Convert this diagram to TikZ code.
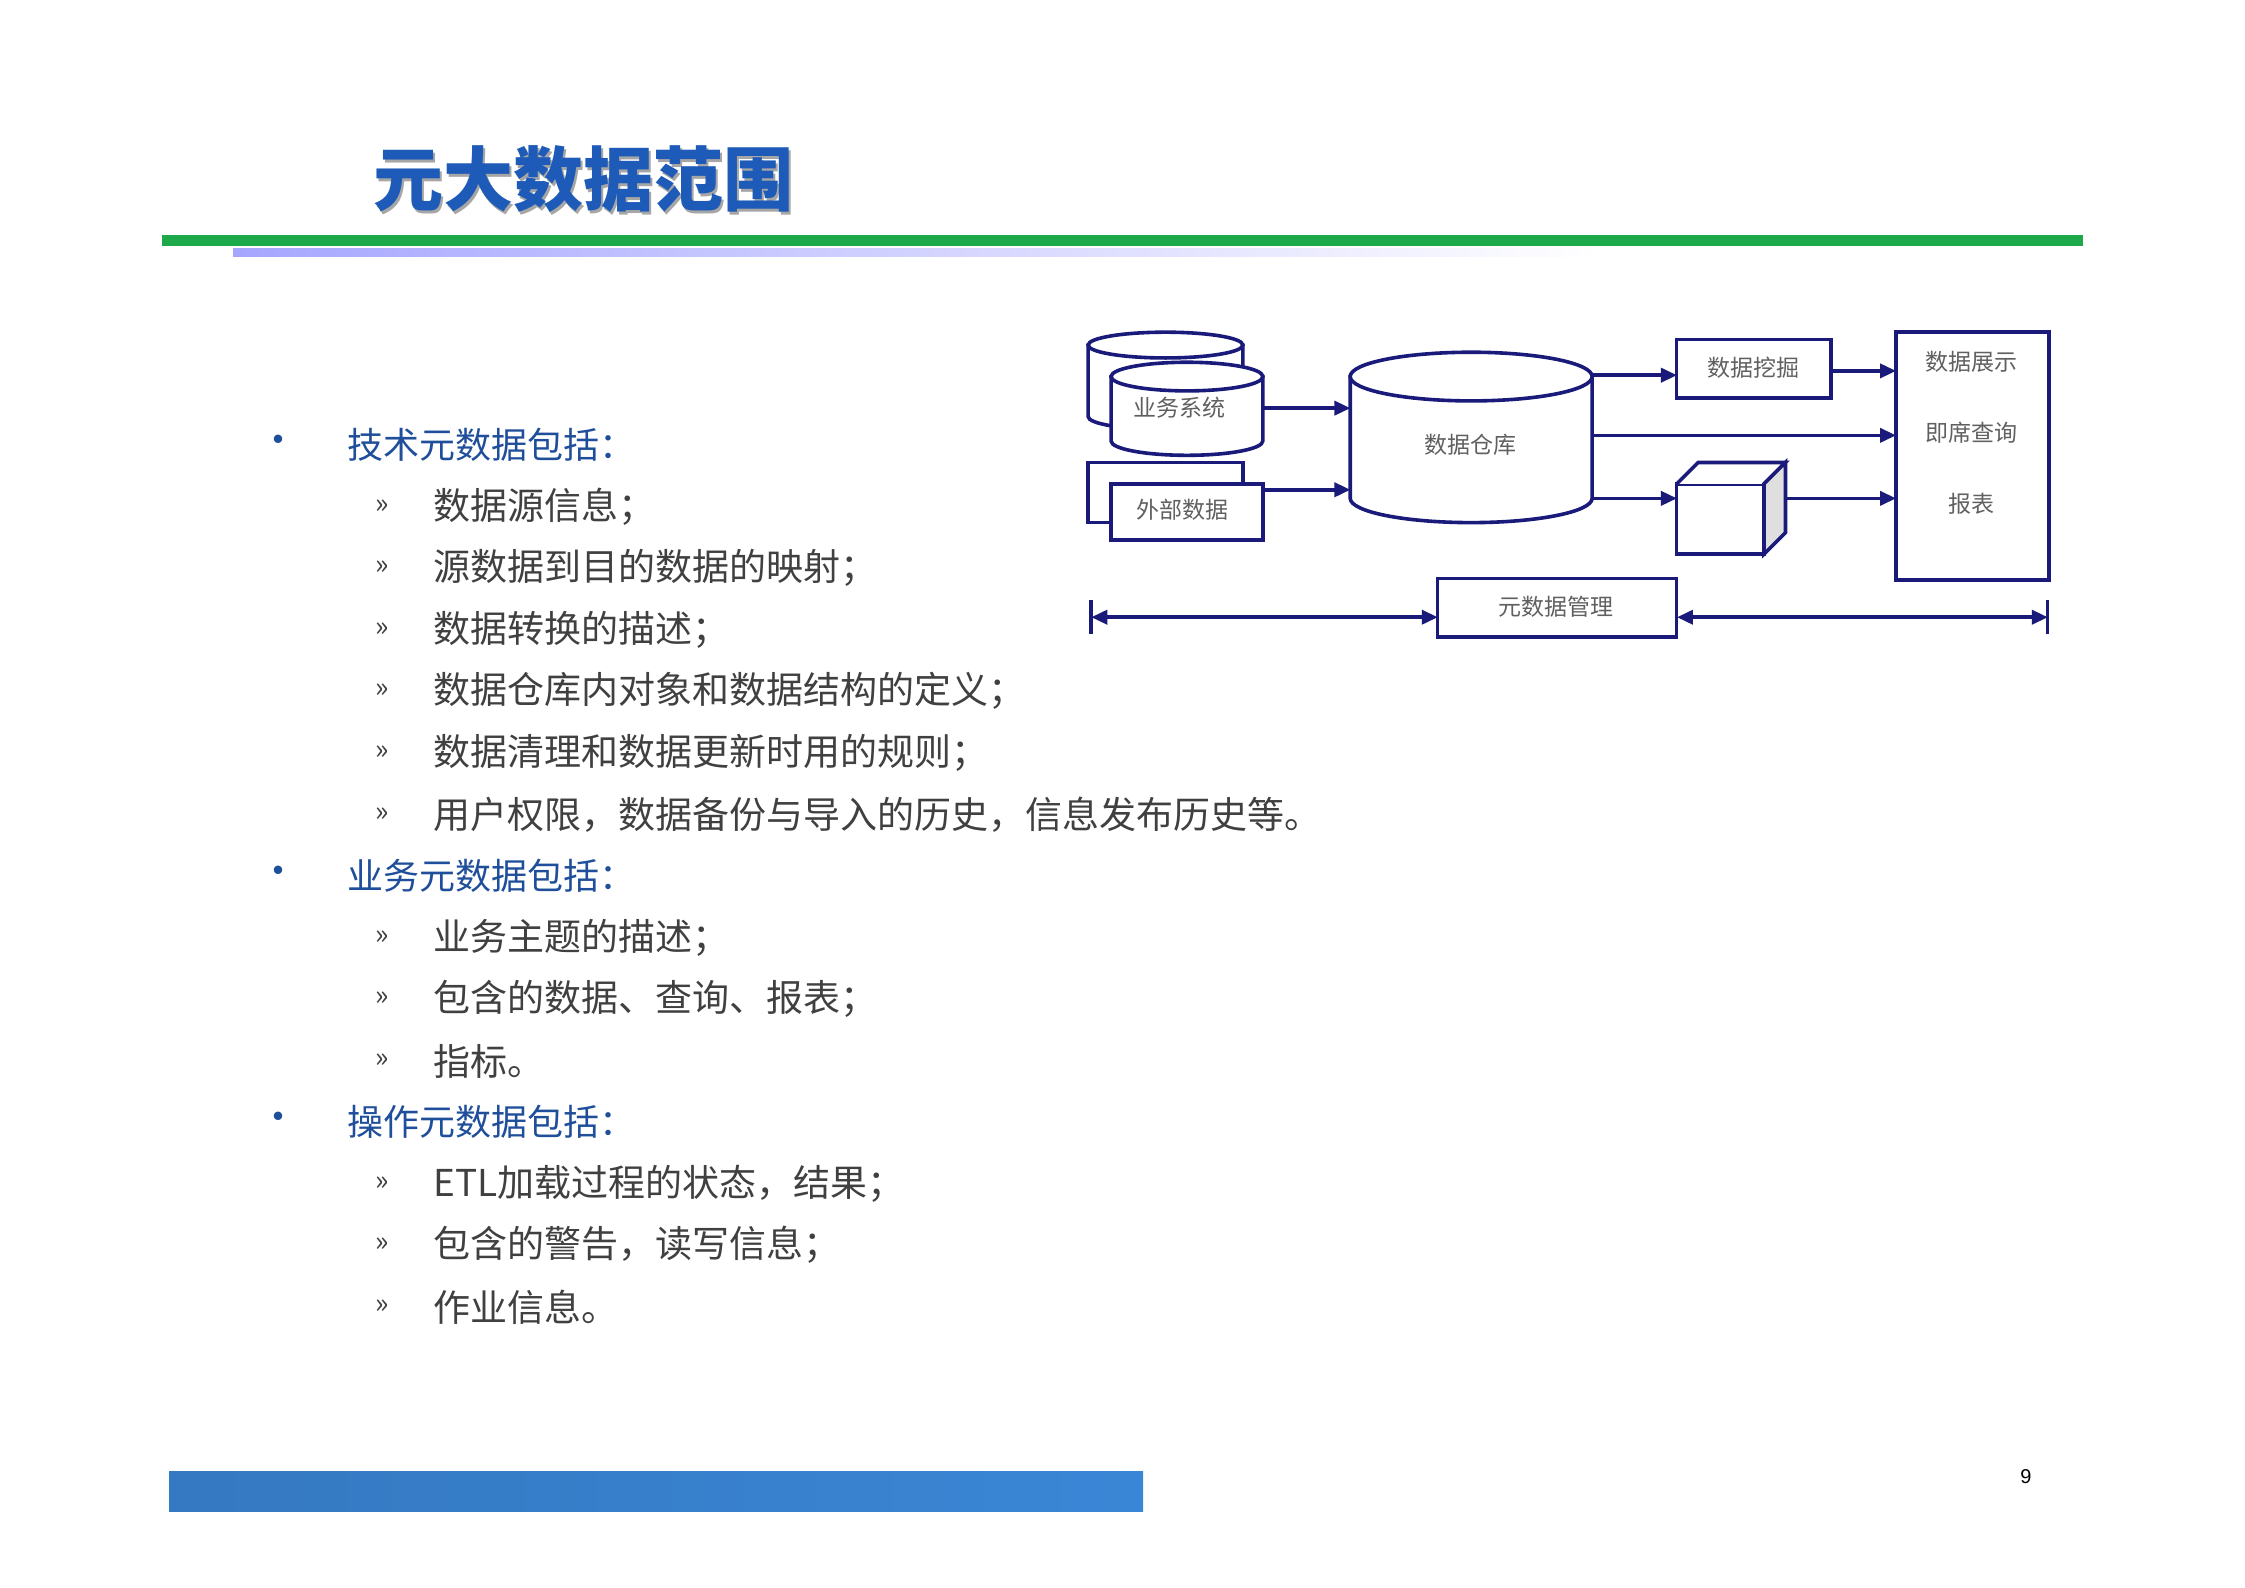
\documentclass[tikz,border=0pt]{standalone}
\usepackage{fontspec}
\setmainfont{Noto Sans CJK SC}
\newfontfamily\numf{Liberation Sans}
\usetikzlibrary{arrows.meta}
\definecolor{navy}{HTML}{1A1A7A}
\definecolor{headblue}{HTML}{1F4E9A}
\definecolor{bodygray}{HTML}{404040}
\definecolor{titleblue}{HTML}{1E5BB8}
\definecolor{greenline}{HTML}{1DA84A}
\definecolor{barblue}{HTML}{3A86D6}
\tikzset{
 dline/.style={navy,line width=3.6pt},
 dbox/.style={draw=navy,line width=3.6pt,fill=white},
 arr/.style={dline,-{Triangle[length=16pt,width=14pt]}},
 dtext/.style={font=\fontsize{23}{26}\selectfont,text=gray!75!black},
 head/.style={anchor=west,font=\fontsize{36}{40}\selectfont,text=headblue},
 item/.style={anchor=west,font=\fontsize{37}{40}\selectfont,text=bodygray},
}
\newcommand\mycyl[5]{% x1 x2 y1 y2 ry
 \pgfmathsetmacro\rx{(#2-#1)/2}
 \pgfmathsetmacro\cx{(#2+#1)/2}
 \filldraw[dbox] (#1,#3+#5) -- (#1,#4-#5) arc[start angle=180,end angle=0,x radius=\rx,y radius=#5] -- (#2,#3+#5) -- cycle;
 \filldraw[dbox] (\cx,#3+#5) ellipse[x radius=\rx,y radius=#5];
}
\begin{document}
\begin{tikzpicture}[x=1pt,y=-1pt]
\useasboundingbox (0,0) rectangle (2245,1587);
% title
\node[anchor=west,font=\fontsize{70}{76}\selectfont\bfseries,text=black!35] (tsh) at (372,182) {元大数据范围};
\node[anchor=west,font=\fontsize{70}{76}\selectfont\bfseries,text=titleblue] (title) at (370,179) {元大数据范围};
\fill[greenline] (162,235) rectangle (2083,246);
\shade[left color=blue!35!white,right color=white] (233,248) rectangle (1600,256);
% text
\def\bx{278}\def\hx{344}\def\sx{372}\def\tx{430}
\foreach \y/\t in {445/技术元数据包括：,876/业务元数据包括：,1122/操作元数据包括：}{
 \node[text=headblue,font=\fontsize{40}{40}\selectfont] at (\bx,\y) {•};
 \node[head] at (\hx,\y) {\t};}
\foreach \y/\t in {507/数据源信息；,568/源数据到目的数据的映射；,630/数据转换的描述；,691/数据仓库内对象和数据结构的定义；,753/数据清理和数据更新时用的规则；,815/用户权限，数据备份与导入的历史，信息发布历史等。,938/业务主题的描述；,999/包含的数据、查询、报表；,1061/指标。,1184/ETL加载过程的状态，结果；,1245/包含的警告，读写信息；,1307/作业信息。}{
 \node[item,font=\fontsize{28}{30}\selectfont] at (\sx,\y) {»};
 \node[item] at (\tx,\y) {\t};}
% diagram (display coordinates scaled)
\begin{scope}[scale=1.4318]
\mycyl{760}{868}{232}{300}{9}
\mycyl{776}{882}{253}{318}{10}
\node[dtext] (yw) at (824,285) {业务系统};
\draw[dbox] (760,323) rectangle (868,365);
\draw[dbox] (776,338) rectangle (882,377);
\node[dtext] (wb) at (826,356) {外部数据};
\mycyl{943}{1112}{246}{365}{17}
\node[dtext] (ck) at (1027,311) {数据仓库};
\draw[dbox] (1171,237) rectangle (1279,278);
\node[dtext] (wj) at (1225,257) {数据挖掘};
\draw[dbox] (1324,232) rectangle (1431,405);
\node[dtext] (zs) at (1377,253) {数据展示};
\node[dtext] (cx) at (1377,302) {即席查询};
\node[dtext] (bb) at (1377,352) {报表};
% cube
\draw[dbox] (1171,338) rectangle (1232,387);
\draw[dbox] (1171,338) -- (1186,323) -- (1247,323) -- (1232,338);
\filldraw[dbox,fill=gray!25] (1232,338) -- (1247,323) -- (1247,372) -- (1232,387) -- cycle;
\draw[dbox] (1004,404) rectangle (1171,445);
\node[dtext] (ms) at (1087,424) {元数据管理};
% arrows
\coordinate (a1) at (882,285); \coordinate (a1e) at (943,285); \draw[arr] (a1) -- (a1e);
\coordinate (a2) at (882,342); \coordinate (a2e) at (943,342); \draw[arr] (a2) -- (a2e);
\coordinate (b1) at (1112,262); \coordinate (b1e) at (1171,262); \draw[arr] (b1) -- (b1e);
\coordinate (b2) at (1112,304); \coordinate (b2e) at (1324,304); \draw[arr] (b2) -- (b2e);
\coordinate (b3) at (1112,348); \coordinate (b3e) at (1171,348); \draw[arr] (b3) -- (b3e);
\coordinate (c1) at (1247,348); \coordinate (c1e) at (1324,348); \draw[arr] (c1) -- (c1e);
\coordinate (c2) at (1279,259); \coordinate (c2e) at (1324,259); \draw[arr] (c2) -- (c2e);
\coordinate (L) at (762,431); \coordinate (R) at (1430,431);
\coordinate (ML) at (1004,431); \coordinate (MR) at (1171,431);
\draw[dline] (762,419) -- (762,443);
\draw[dline] (1430,419) -- (1430,443);
\draw[dline,{Triangle[length=16pt,width=14pt]}-{Triangle[length=16pt,width=14pt]}] (L) -- (ML);
\draw[dline,{Triangle[length=16pt,width=14pt]}-{Triangle[length=16pt,width=14pt]}] (MR) -- (R);
\end{scope}
% footer
\shade[left color=barblue!90!black,right color=barblue] (169,1471) rectangle (1143,1511);
\node[font=\numf\fontsize{20}{22}\selectfont] (pg) at (2026,1477) {9};
\end{tikzpicture}
\end{document}
